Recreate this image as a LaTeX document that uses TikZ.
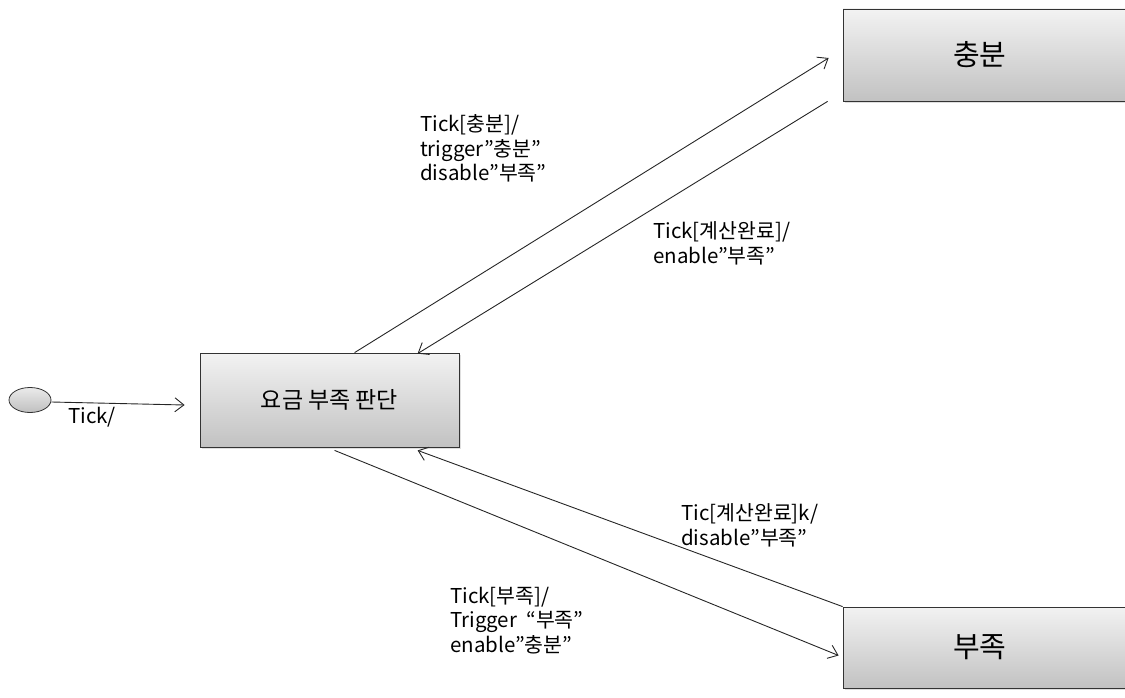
\documentclass[tikz,border=0pt]{standalone}
\usepackage{fontspec}
\setmainfont{Noto Sans CJK KR}
\usetikzlibrary{arrows.meta,shadows,calc,shapes.geometric}
\tikzset{
  state/.style={draw=black!80, line width=0.8pt, top color=white!95!black, bottom color=white!76!black,
    drop shadow={opacity=0.25, shadow xshift=2pt, shadow yshift=-2pt},
    font=\fontsize{23}{26}\selectfont, inner sep=0pt},
  bigstate/.style={state, minimum width=290pt, text width=282pt, align=left, font=\fontsize{29}{32}\selectfont},
  lbl/.style={anchor=base west, align=left, inner sep=0pt, font=\fontsize{20.5}{24.5}\selectfont},
  trans/.style={draw=black!85, line width=0.9pt, -{Straight Barb[length=9pt,width=14pt,line width=0.9pt]}}
}
\begin{document}
\begin{tikzpicture}[x=1pt,y=-1pt]
\useasboundingbox (0,0) rectangle (1125,698);
\node[state, minimum width=259pt, minimum height=94pt] (low) at (329.5,400) {요금 부족 판단};
\node[bigstate, minimum height=92pt] (high) at (988,55) {\hspace*{106pt}\raisebox{-3pt}{충분}};
\node[bigstate, minimum height=81pt] (short) at (988,647.5) {\hspace*{106pt}\raisebox{-5pt}{부족}};
\node[ellipse, draw=black!80, line width=0.8pt, top color=white!92!black, bottom color=white!75!black,
  minimum width=42pt, minimum height=25pt, inner sep=0pt] (init) at (30,400) {};
\draw[trans] ([yshift=-2pt]init.east) -- ([xshift=-15pt,yshift=-5pt]low.west);
\node[lbl] (tlbl) at (68,423) {Tick/};
\draw[trans] ([xshift=155pt]low.north west) -- ([xshift=-14pt,yshift=-3pt]high.west);
\draw[trans] ([xshift=-15pt]high.south west) -- ([xshift=218pt,yshift=-1pt]low.north west);
\draw[trans] (short.north west) -- ([xshift=218pt,yshift=-3pt]low.south west);
\draw[trans] ([xshift=135pt,yshift=-3pt]low.south west) -- ([xshift=-4pt,yshift=-8pt]short.west);
\node[lbl] (l1) at (420,181) {Tick[충분]/\\trigger”충분”\\disable”부족”};
\node[lbl] (l2) at (653,263) {Tick[계산완료]/\\enable”부족”};
\node[lbl] (l3) at (681,545) {Tic[계산완료]k/\\disable”부족”};
\node[lbl] (l4) at (450,652) {Tick[부족]/\\Trigger \ “부족”\\enable”충분”};
\end{tikzpicture}
\end{document}
